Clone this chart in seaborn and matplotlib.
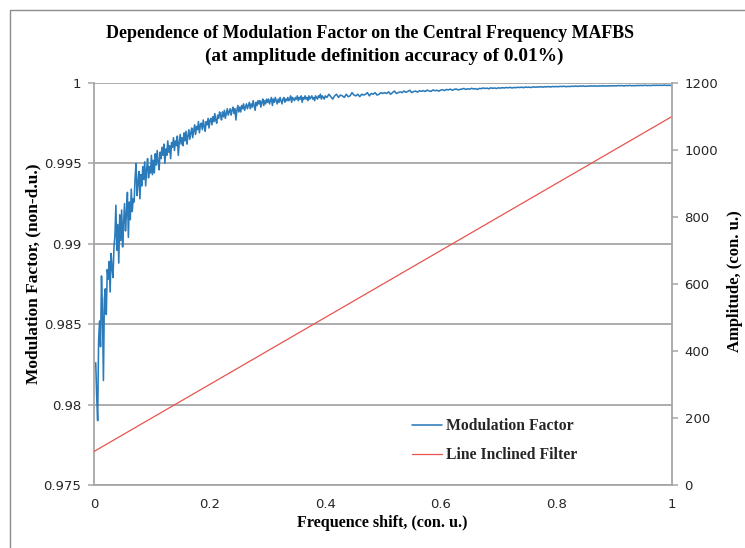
import numpy as np
import pandas as pd
import matplotlib
matplotlib.use("Agg")
import matplotlib.pyplot as plt
import seaborn as sns
from matplotlib.patches import Rectangle
from matplotlib.ticker import FormatStrFormatter

# ---------------- data ----------------
title_lines = ["Dependence of Modulation Factor on the Central Frequency MAFBS",
               "(at amplitude definition accuracy of 0.01%)"]
x_label = "Frequence shift, (con. u.)"
y_left_label = "Modulation Factor, (non-d.u.)"
y_right_label = "Amplitude, (con. u.)"
series_names = ["Modulation Factor", "Line Inclined Filter"]

# modulation factor, low-shift part (denser sampling), x from 0.003 to 0.4
low_shift_range = (0.003, 0.4)
modulation_factor_low = [
    0.9826, 0.9805, 0.9790, 0.9840, 0.9852, 0.9836, 0.9880, 0.9858, 0.9815, 0.9866,
    0.9872, 0.9856, 0.9884, 0.9878, 0.9889, 0.9870, 0.9894, 0.9885, 0.9879, 0.9898,
    0.9905, 0.9924, 0.9896, 0.9912, 0.9888, 0.9918, 0.9902, 0.9921, 0.9898, 0.9913,
    0.9925, 0.9908, 0.9919, 0.9932, 0.9904, 0.9926, 0.9915, 0.9934, 0.9920, 0.9928,
    0.9926, 0.9941, 0.9950, 0.9930, 0.9938, 0.9945, 0.9928, 0.9943, 0.9936, 0.9948,
    0.9940, 0.9951, 0.9936, 0.9946, 0.9953, 0.9941, 0.9948, 0.9944, 0.9955, 0.9943,
    0.9952, 0.9944, 0.9956, 0.9949, 0.9958, 0.9951, 0.9946, 0.9957, 0.9953, 0.9960,
    0.9955, 0.9962, 0.9950, 0.9959, 0.9955, 0.9964, 0.9957, 0.9961, 0.9953, 0.9963,
    0.9960, 0.9966, 0.9958, 0.9964, 0.9961, 0.9967, 0.9955, 0.9963, 0.9968, 0.9962,
    0.9966, 0.9961, 0.9969, 0.9964, 0.9970, 0.9962, 0.9967, 0.9971, 0.9965, 0.9969,
    0.9972, 0.9966, 0.9970, 0.9974, 0.9968, 0.9973, 0.9971, 0.9976, 0.9969, 0.9974,
    0.9975, 0.9971, 0.9977, 0.9973, 0.9970, 0.9976, 0.9974, 0.9978, 0.9972, 0.9977,
    0.9978, 0.9974, 0.9979, 0.9976, 0.9981, 0.9977, 0.9975, 0.9980, 0.9978, 0.9982,
    0.9980, 0.9977, 0.9982, 0.9979, 0.9983, 0.9978, 0.9981, 0.9984, 0.9980, 0.9982,
    0.9984, 0.9980, 0.9983, 0.9985, 0.9981, 0.9984, 0.9977, 0.9983, 0.9986, 0.9982,
    0.9985, 0.9982, 0.9986, 0.9984, 0.9987, 0.9983, 0.9985, 0.9987, 0.9984, 0.9986,
    0.9988, 0.9984, 0.9987, 0.9985, 0.9989, 0.9986, 0.9983, 0.9988, 0.9986, 0.9989,
    0.9987, 0.9989, 0.9985, 0.9988, 0.9990, 0.9986, 0.9989, 0.9987, 0.9990, 0.9988,
    0.9990, 0.9987, 0.9989, 0.9991, 0.9986, 0.9990, 0.9988, 0.9991, 0.9989, 0.9987,
    0.9990, 0.9988, 0.9991, 0.9989, 0.9987, 0.9990, 0.9991, 0.9988, 0.9990, 0.9989,
    0.9991, 0.9989, 0.9990, 0.9992, 0.9988, 0.9991, 0.9990, 0.9989, 0.9991, 0.9990,
    0.9992, 0.9989, 0.9991, 0.9990, 0.9992, 0.9988, 0.9991, 0.9990, 0.9992, 0.9990,
    0.9991, 0.9989, 0.9992, 0.9990, 0.9991, 0.9992, 0.9990, 0.9991, 0.9989, 0.9992,
    0.9991, 0.9990, 0.9992, 0.9991, 0.9993, 0.9990, 0.9992, 0.9991, 0.9990, 0.9992,
]
# modulation factor, high-shift part, x from 0.403 to 1.0
high_shift_range = (0.403, 1.0)
modulation_factor_high = [
    0.9991, 0.9993, 0.99915, 0.9990, 0.9992, 0.9993, 0.9991, 0.99925, 0.9992, 0.9991,
    0.9993, 0.99915, 0.9992, 0.9994, 0.99925, 0.9992, 0.9993, 0.99915, 0.9993, 0.99925,
    0.9993, 0.9994, 0.9992, 0.99935, 0.9993, 0.9994, 0.99925, 0.9993, 0.9994, 0.99935,
    0.9994, 0.99935, 0.99945, 0.9993, 0.9994, 0.9995, 0.99935, 0.9994, 0.99945, 0.9994,
    0.9995, 0.99942, 0.99948, 0.99955, 0.9994, 0.99947, 0.9995, 0.99943, 0.99952, 0.99948,
    0.99953, 0.99947, 0.99956, 0.9995, 0.99948, 0.99957, 0.99952, 0.99955, 0.99949, 0.99956,
    0.99958, 0.99953, 0.9996, 0.99957, 0.99962, 0.99955, 0.9996, 0.99963, 0.99957, 0.9996,
    0.99962, 0.99966, 0.9996, 0.99964, 0.99961, 0.99967, 0.99963, 0.99965, 0.9996, 0.99966,
    0.99965, 0.99969, 0.99966, 0.99968, 0.99964, 0.9997, 0.99967, 0.99969, 0.99966, 0.9997,
    0.99968, 0.99971, 0.99969, 0.99972, 0.9997, 0.99973, 0.99969, 0.99972, 0.99971, 0.99973,
    0.99972, 0.99974, 0.99971, 0.99975, 0.99973, 0.99974, 0.99972, 0.99976, 0.99974, 0.99975,
    0.99975, 0.99977, 0.99974, 0.99977, 0.99976, 0.99978, 0.99975, 0.99978, 0.99977, 0.99978,
    0.99977, 0.99979, 0.99978, 0.9998, 0.99977, 0.99979, 0.99978, 0.9998, 0.99979, 0.99981,
    0.99979, 0.99981, 0.9998, 0.99982, 0.99979, 0.99981, 0.9998, 0.99982, 0.99981, 0.99982,
    0.9998, 0.99982, 0.99981, 0.99983, 0.99981, 0.99982, 0.99981, 0.99983, 0.99982, 0.99983,
    0.99982, 0.99984, 0.99983, 0.99984, 0.99982, 0.99984, 0.99983, 0.99985, 0.99983, 0.99984,
    0.99983, 0.99985, 0.99984, 0.99985, 0.99984, 0.99986, 0.99984, 0.99985, 0.99984, 0.99986,
    0.99985, 0.99986, 0.99985, 0.99986, 0.99985, 0.99987, 0.99985, 0.99986, 0.99985, 0.99986,
]
filter_shift = [0.0, 1.0]
filter_amplitude = [100, 1100]

x_ticks = [0, 0.2, 0.4, 0.6, 0.8, 1]
y_left_ticks = [0.975, 0.98, 0.985, 0.99, 0.995, 1]
y_right_ticks = [0, 200, 400, 600, 800, 1000, 1200]

# ---------------- styling ----------------
sns.set_style("white")
plt.rcParams["font.family"] = ["DejaVu Sans"]

BLUE = "#2B7BBA"
RED = "#E8544F"
GRID = "#A6A6A6"
TXT = "#262626"
serif = "Liberation Serif"

shift = np.concatenate([
    np.linspace(*low_shift_range, len(modulation_factor_low)),
    np.linspace(*high_shift_range, len(modulation_factor_high)),
])
mf_df = pd.DataFrame({"shift": shift,
                      "mf": modulation_factor_low + modulation_factor_high})
flt_df = pd.DataFrame({"shift": filter_shift, "amp": filter_amplitude})

fig = plt.figure(figsize=(7.45, 5.48), dpi=100)
ax = fig.add_axes([94 / 745, 1 - 485 / 548, (672 - 94) / 745, (485 - 83) / 548])
ax2 = ax.twinx()

sns.lineplot(data=mf_df, x="shift", y="mf", ax=ax, color=BLUE, lw=1.15,
             label=series_names[0], legend=False, sort=False)
sns.lineplot(data=flt_df, x="shift", y="amp", ax=ax2, color=RED, lw=0.9,
             label=series_names[1], legend=False)

ax.set_xlim(0, 1)
ax.set_ylim(0.975, 1.0)
ax2.set_ylim(0, 1200)
ax.set_xticks(x_ticks)
ax.set_yticks(y_left_ticks)
ax2.set_yticks(y_right_ticks)
ax.xaxis.set_major_formatter(FormatStrFormatter("%g"))
ax.yaxis.set_major_formatter(FormatStrFormatter("%g"))
ax2.yaxis.set_major_formatter(FormatStrFormatter("%g"))

ax.grid(axis="y", color=GRID, lw=1.3)
ax.grid(axis="x", visible=False)
ax2.grid(False)
ax.set_axisbelow(True)

for a in (ax, ax2):
    for s in a.spines.values():
        s.set_visible(False)
ax.spines["left"].set_visible(True)
ax.spines["bottom"].set_visible(True)
ax2.spines["right"].set_visible(True)
for s in (ax.spines["left"], ax.spines["bottom"], ax2.spines["right"]):
    s.set_color(GRID)
    s.set_linewidth(1.3)

for a in (ax, ax2):
    a.tick_params(axis="both", direction="out", length=4, width=1.1, color=GRID,
                  labelsize=9.5, labelcolor=TXT, pad=5)

ax.set_xlabel("")
ax.set_ylabel("")
ax2.set_ylabel("")

fig.text(382 / 745, 1 - 523 / 548, x_label, ha="center", va="center",
         family=serif, fontweight="bold", fontsize=11.6, color="black")
fig.text(33 / 745, 1 - 274 / 548, y_left_label, ha="center", va="center", rotation=90,
         family=serif, fontweight="bold", fontsize=12.5, color="black")
fig.text(735 / 745, 1 - 281 / 548, y_right_label, ha="center", va="center", rotation=90,
         family=serif, fontweight="bold", fontsize=12, color="black")

fig.text(370 / 745, 1 - 33 / 548, title_lines[0], ha="center", va="center",
         family=serif, fontweight="bold", fontsize=12.9, color="black")
fig.text(384 / 745, 1 - 56 / 548, title_lines[1], ha="center", va="center",
         family=serif, fontweight="bold", fontsize=13.9, color="black")

h1, l1 = ax.get_legend_handles_labels()
h2, l2 = ax2.get_legend_handles_labels()
leg = ax2.legend(h1 + h2, l1 + l2, loc="upper left",
                 bbox_to_anchor=(398 / 745, 1 - 404 / 548), bbox_transform=fig.transFigure,
                 frameon=False, prop={"family": serif, "weight": "bold", "size": 11.3},
                 handlelength=1.9, handletextpad=0.25, labelspacing=0.85)

fig.patches.append(Rectangle((10 / 745, -0.05), 1.2, 1 - 10 / 548 + 0.05,
                             transform=fig.transFigure, fill=False,
                             edgecolor="#8C8C8C", lw=1.0))

fig.savefig("out.png", dpi=100, facecolor="white")
